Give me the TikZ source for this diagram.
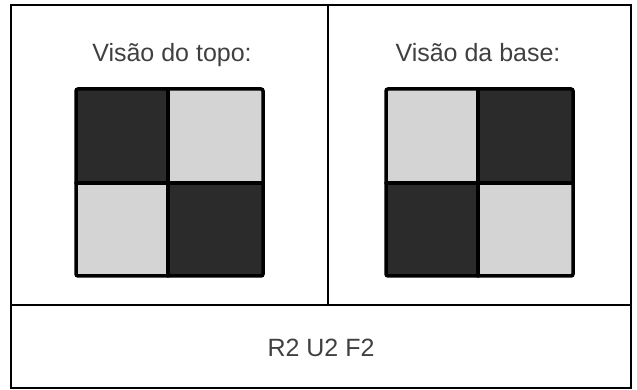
\documentclass[tikz,border=0pt]{standalone}
\usepackage{fontspec}
\setmainfont{Liberation Sans}
\definecolor{dk}{HTML}{2B2B2B}
\definecolor{lt}{HTML}{D4D4D4}
\definecolor{tx}{HTML}{404040}
\tikzset{
  frame/.style={draw=black, line width=2pt},
  dkcell/.style={fill=dk},
  ltcell/.style={fill=lt},
  gridline/.style={draw=black, line width=3.5pt, line cap=round},
  label/.style={text=tx, font=\fontsize{25}{29}\selectfont, anchor=base, inner sep=0pt}
}
\begin{document}
\begin{tikzpicture}[x=1pt,y=1pt]
\useasboundingbox (0,0) rectangle (637,390);
% outer table
\draw[frame] (11,2) rectangle (631,385);
\draw[frame] (11,85) -- (631,85);
\draw[frame] (328,85) -- (328,385);
% left grid (top view)
\fill[dkcell] (76,207) rectangle (168,301);
\fill[ltcell] (168,207) rectangle (263,301);
\fill[ltcell] (76,114) rectangle (168,207);
\fill[dkcell] (168,114) rectangle (263,207);
\draw[gridline, rounded corners=2pt] (76,114) rectangle (263,301);
\draw[gridline] (168,114) -- (168,301);
\draw[gridline] (76,207) -- (263,207);
% right grid (bottom view)
\fill[ltcell] (386,207) rectangle (478,301);
\fill[dkcell] (478,207) rectangle (573,301);
\fill[dkcell] (386,114) rectangle (478,207);
\fill[ltcell] (478,114) rectangle (573,207);
\draw[gridline, rounded corners=2pt] (386,114) rectangle (573,301);
\draw[gridline] (478,114) -- (478,301);
\draw[gridline] (386,207) -- (573,207);
% labels
\node[label] (top) at (172,328) {Visão do topo:};
\node[label] (base) at (478,328) {Visão da base:};
\node[label] (alg) at (321,33) {R2 U2 F2};
\end{tikzpicture}
\end{document}
